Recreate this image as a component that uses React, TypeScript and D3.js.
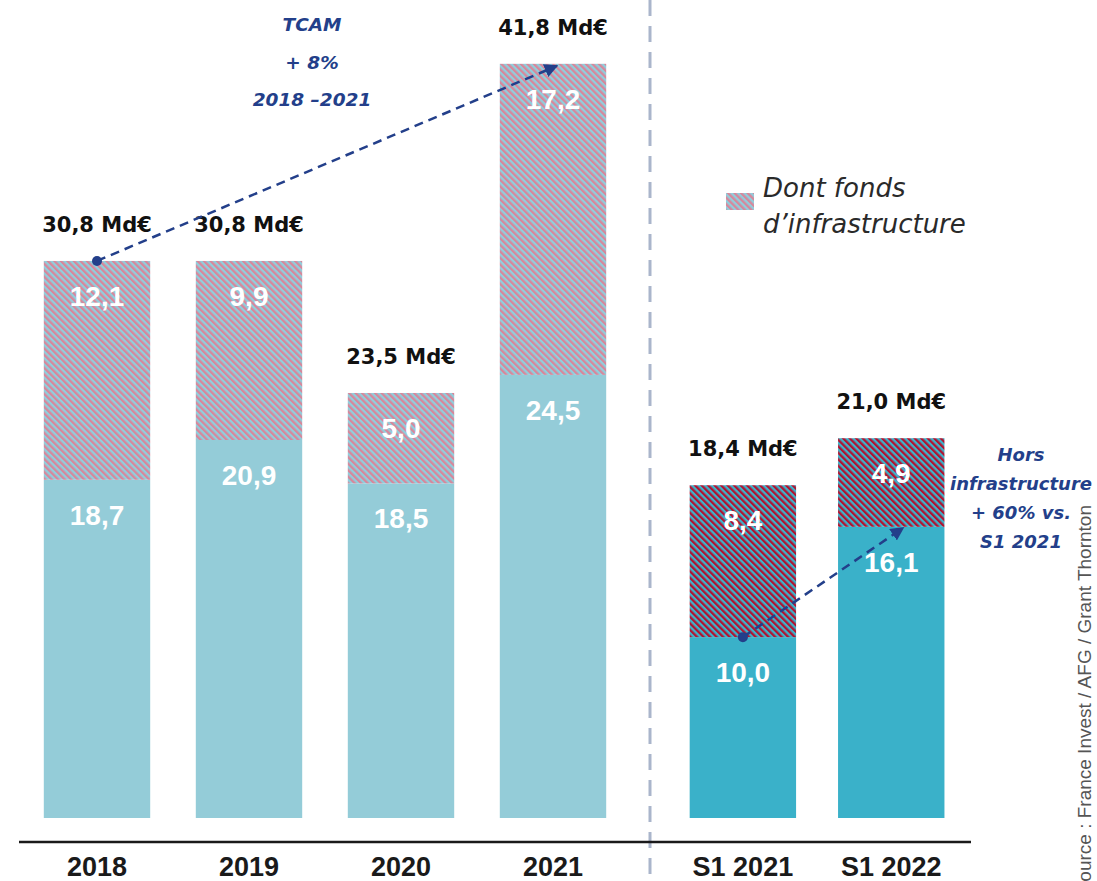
import React from "react";
import * as d3 from "d3";

const categoriesLeft = ["2018", "2019", "2020", "2021"];
const categoriesRight = ["S1 2021", "S1 2022"];
const horsInfra = [18.7, 20.9, 18.5, 24.5, 10.0, 16.1];
const infra = [12.1, 9.9, 5.0, 17.2, 8.4, 4.9];
const totals = ["30,8 Md€", "30,8 Md€", "23,5 Md€", "41,8 Md€", "18,4 Md€", "21,0 Md€"];
const tcamLines = ["TCAM", "+ 8%", "2018 –2021"];
const horsLines = ["Hors", "infrastructure", "+ 60% vs.", "S1 2021"];
const legendLines = ["Dont fonds", "d’infrastructure"];
const sourceText = "Source : France Invest / AFG / Grant Thornton";

const W = 1097;
const H = 881;
const NAVY = "#233f8a";

const fmt = (v: number) => v.toFixed(1).replace(".", ",");

export default function App() {
  const y = d3.scaleLinear().domain([0, 41.8]).range([818, 62]);
  const xL = d3.scaleBand<string>().domain(categoriesLeft).range([21, 629]).paddingInner(0.3).paddingOuter(0.15);
  const xR = d3.scaleBand<string>().domain(categoriesRight).range([660, 975]).paddingInner(0.277).paddingOuter(0.2);
  const all = [...categoriesLeft, ...categoriesRight];
  const xPos = (c: string) => (categoriesLeft.includes(c) ? (xL(c) as number) : (xR(c) as number));
  const bw = xL.bandwidth();

  const bars = all.map((c, i) => {
    const dark = categoriesRight.includes(c);
    const x0 = xPos(c);
    const yMid = y(horsInfra[i]);
    const yTop = y(horsInfra[i] + infra[i]);
    return { c, i, dark, x0, yMid, yTop };
  });

  const b2018 = bars[0];
  const b2021 = bars[3];
  const bS1 = bars[4];
  const bS2 = bars[5];

  const arrow1 = { x1: b2018.x0 + bw / 2, y1: b2018.yTop, x2: b2021.x0 + bw / 2 + 4, y2: b2021.yTop + 2 };
  const arrow2 = { x1: bS1.x0 + bw / 2, y1: bS1.yMid, x2: bS2.x0 + bw / 2 + 12, y2: bS2.yMid + 1 };

  const boldFont = "'DejaVu Sans', sans-serif";
  const valueFont = "'Liberation Sans', sans-serif";

  return (
    <svg width={W} height={H} style={{ position: "absolute", left: 0, top: 0, background: "#fff" }}>
      <defs>
        <pattern id="pLight" width="4.6" height="4.6" patternUnits="userSpaceOnUse" patternTransform="rotate(-45)">
          <rect width="4.6" height="4.6" fill="#8fcfdd" />
          <rect width="2.3" height="4.6" fill="#d9869a" />
        </pattern>
        <pattern id="pDark" width="4.6" height="4.6" patternUnits="userSpaceOnUse" patternTransform="rotate(-45)">
          <rect width="4.6" height="4.6" fill="#3bb4cc" />
          <rect width="2.3" height="4.6" fill="#b3122f" />
        </pattern>
        <marker id="arrowHead" viewBox="0 0 10 10" refX="9" refY="5" markerWidth="5.5" markerHeight="5.5" orient="auto" markerUnits="strokeWidth">
          <path d="M0,0 L10,5 L0,10 z" fill={NAVY} />
        </marker>
      </defs>

      {/* vertical dashed separator */}
      <line x1={650} x2={650} y1={0} y2={H} stroke="#aab5cb" strokeWidth={3} strokeDasharray="16,10" />

      {/* bars */}
      {bars.map((b) => (
        <g key={b.c}>
          <rect x={b.x0} y={b.yMid} width={bw} height={818 - b.yMid} fill={b.dark ? "#3ab1c9" : "#94ccd8"} />
          <rect x={b.x0} y={b.yTop} width={bw} height={b.yMid - b.yTop} fill={b.dark ? "url(#pDark)" : "url(#pLight)"} />
          <text x={b.x0 + bw / 2} y={b.yTop + 45} textAnchor="middle" fill="#fff" fontFamily={valueFont} fontWeight={700} fontSize={28}>
            {fmt(infra[b.i])}
          </text>
          <text x={b.x0 + bw / 2} y={b.yMid + 45} textAnchor="middle" fill="#fff" fontFamily={valueFont} fontWeight={700} fontSize={28}>
            {fmt(horsInfra[b.i])}
          </text>
          <text x={b.x0 + bw / 2} y={b.yTop - 29} textAnchor="middle" fill="#111" fontFamily={boldFont} fontWeight={700} fontSize={21}>
            {totals[b.i]}
          </text>
          <text x={b.x0 + bw / 2} y={876} textAnchor="middle" fill="#1a1a1a" fontFamily={valueFont} fontWeight={700} fontSize={27}>
            {b.c}
          </text>
        </g>
      ))}

      {/* axis baseline */}
      <line x1={19} x2={971} y1={842} y2={842} stroke="#1a1a1a" strokeWidth={2.5} />

      {/* arrows */}
      <line x1={arrow1.x1} y1={arrow1.y1} x2={arrow1.x2} y2={arrow1.y2} stroke={NAVY} strokeWidth={2.5} strokeDasharray="9,6" markerEnd="url(#arrowHead)" />
      <circle cx={arrow1.x1} cy={arrow1.y1} r={5} fill={NAVY} />
      <line x1={arrow2.x1} y1={arrow2.y1} x2={arrow2.x2} y2={arrow2.y2} stroke={NAVY} strokeWidth={2.5} strokeDasharray="9,6" markerEnd="url(#arrowHead)" />
      <circle cx={arrow2.x1} cy={arrow2.y1} r={5} fill={NAVY} />

      {/* TCAM annotation */}
      {tcamLines.map((t, k) => (
        <text key={t} x={312} y={31 + k * 37.5} textAnchor="middle" fill={NAVY} fontFamily={boldFont} fontWeight={700} fontStyle="italic" fontSize={18.5}>
          {t}
        </text>
      ))}

      {/* Hors infrastructure annotation */}
      {horsLines.map((t, k) => (
        <text key={t} x={1021} y={461 + k * 29} textAnchor="middle" fill={NAVY} fontFamily={boldFont} fontWeight={700} fontStyle="italic" fontSize={18}>
          {t}
        </text>
      ))}

      {/* legend */}
      <rect x={726} y={193} width={28} height={17} fill="url(#pLight)" />
      {legendLines.map((t, k) => (
        <text key={t} x={763} y={197 + k * 36} fill="#2a2a2a" fontFamily={boldFont} fontStyle="italic" fontSize={26}>
          {t}
        </text>
      ))}

      {/* source */}
      <text transform="translate(1091,505) rotate(-90)" textAnchor="end" fill="#555" fontFamily={valueFont} fontSize={19}>
        {sourceText}
      </text>
    </svg>
  );
}
